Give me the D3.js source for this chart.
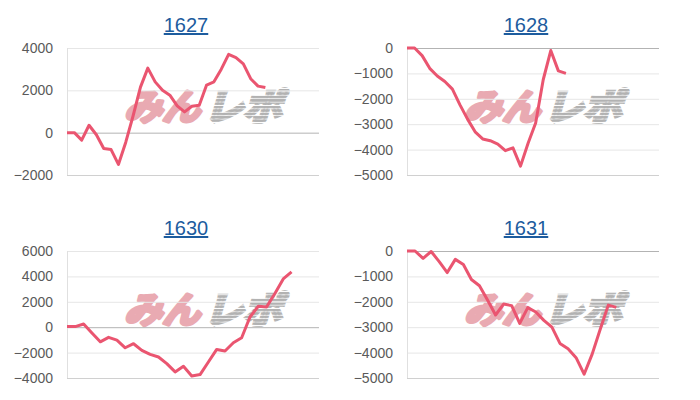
<!DOCTYPE html>
<html>
<head>
<meta charset="utf-8">
<script src="https://cdn.jsdelivr.net/npm/d3@7"></script>
<style>
  body { margin: 0; background: #fff; }
  svg { display: block; }
</style>
</head>
<body>
<svg id="chart" width="700" height="400"></svg>
<script>
// ---- 1. Data (one value per sample) ----
const panelTitles = ["1627", "1628", "1630", "1631"];

const values1627 = [0, 0, -350, 350, -100, -750, -800, -1500, -450, 800, 2150, 3050, 2400, 2000,
  1770, 1270, 980, 1250, 1300, 2250, 2400, 3000, 3700, 3550, 3250, 2550, 2200, 2130];
const values1628 = [0, 0, -300, -800, -1100, -1320, -1620, -2240, -2800, -3300, -3580, -3650,
  -3780, -4040, -3930, -4650, -3750, -2950, -1250, -100, -900, -1000];
const values1630 = [50, 50, 250, -460, -1150, -800, -1020, -1620, -1300, -1830, -2140, -2350,
  -2870, -3520, -3080, -3840, -3730, -2740, -1750, -1870, -1220, -830, 800, 1650, 1600, 2650,
  3800, 4350];
const values1631 = [0, 0, -290, -20, -420, -850, -330, -530, -1120, -1370, -1930, -2520, -2090,
  -2150, -2850, -2230, -2400, -2730, -3000, -3640, -3850, -4200, -4850, -4060, -3080, -2130,
  -2220];

const yTicks1627 = [-2000, 0, 2000, 4000];
const yTicks1628 = [-5000, -4000, -3000, -2000, -1000, 0];
const yTicks1630 = [-4000, -2000, 0, 2000, 4000, 6000];
const yTicks1631 = [-5000, -4000, -3000, -2000, -1000, 0];

// horizontal axis end, in samples
const xAxisMax = [34.3, 33.3, 30.3, 31.3];

// ---- 2. Draw the four small charts ----
const svg = d3.select("#chart");

const defs = svg.append("defs");
defs
  .append("pattern")
  .attr("id", "stripes")
  .attr("width", 6)
  .attr("height", 3.4)
  .attr("patternUnits", "userSpaceOnUse")
  .append("rect")
  .attr("width", 6)
  .attr("height", 2.4)
  .attr("fill", "#b2b2b2");

const plotW = 252;
const plotH = 127;

const panels = [
  { title: panelTitles[0], values: values1627, ticks: yTicks1627, xMax: xAxisMax[0], left: 67, top: 48 },
  { title: panelTitles[1], values: values1628, ticks: yTicks1628, xMax: xAxisMax[1], left: 407, top: 48 },
  { title: panelTitles[2], values: values1630, ticks: yTicks1630, xMax: xAxisMax[2], left: 67, top: 251 },
  { title: panelTitles[3], values: values1631, ticks: yTicks1631, xMax: xAxisMax[3], left: 407, top: 251 },
];

panels.forEach(drawPanel);

function drawPanel(p) {
  const g = svg.append("g").attr("transform", `translate(${p.left},${p.top})`);

  const x = d3.scaleLinear().domain([0, p.xMax]).range([0, plotW]);
  const y = d3
    .scaleLinear()
    .domain(d3.extent(p.ticks))
    .range([plotH, 0]);

  // title (link style)
  g.append("text")
    .attr("x", 119)
    .attr("y", -16)
    .attr("text-anchor", "middle")
    .attr("fill", "#1d5c9e")
    .attr("font-family", "Liberation Sans, Arial, sans-serif")
    .attr("font-size", 20)
    .style("text-decoration", "underline")
    .text(p.title);

  // watermark (みんレポ logo)
  const wm = g
    .append("g")
    .attr("transform", `translate(${plotW / 2 + 9},${plotH / 2 + 8}) skewX(-16)`)
    .attr("font-family", "Noto Sans CJK JP, sans-serif")
    .attr("font-weight", 700)
    .attr("font-size", 36);
  wm.append("text")
    .attr("x", -78)
    .attr("y", 0)
    .attr("fill", "#e9aab2")
    .attr("stroke", "#e9aab2")
    .attr("stroke-width", 3.5)
    .attr("stroke-linejoin", "round")
    .attr("textLength", 76)
    .attr("lengthAdjust", "spacingAndGlyphs")
    .text("みん");
  wm.append("text")
    .attr("x", 2)
    .attr("y", 0)
    .attr("fill", "url(#stripes)")
    .attr("stroke", "url(#stripes)")
    .attr("stroke-width", 3.5)
    .attr("textLength", 78)
    .attr("lengthAdjust", "spacingAndGlyphs")
    .text("レポ");

  // grid + labels
  g.append("g")
    .call(
      d3
        .axisLeft(y)
        .tickValues(p.ticks)
        .tickSize(-plotW)
        .tickPadding(14)
        .tickFormat(d3.format("d"))
    )
    .call((a) => a.select(".domain").remove())
    .call((a) =>
      a
        .selectAll("line")
        .attr("stroke", (d) => (d === 0 ? "#b3b3b3" : d === p.ticks[0] ? "#d0d0d0" : "#e6e6e6"))
    )
    .call((a) =>
      a
        .selectAll("text")
        .attr("fill", "#5a5a5a")
        .attr("font-size", 14)
        .attr("font-family", "Liberation Sans, Arial, sans-serif")
    );

  // vertical baseline at x = 0
  g.append("line")
    .attr("x1", x(0) + 0.5)
    .attr("x2", x(0) + 0.5)
    .attr("y1", 0)
    .attr("y2", plotH)
    .attr("stroke", "#e0e0e0");

  const line = d3
    .line()
    .x((d, i) => x(i))
    .y((d) => y(d));

  g.append("path")
    .datum(p.values)
    .attr("fill", "none")
    .attr("stroke", "#ea5570")
    .attr("stroke-width", 3)
    .attr("stroke-linejoin", "round")
    .attr("d", line);
}
</script>
</body>
</html>
